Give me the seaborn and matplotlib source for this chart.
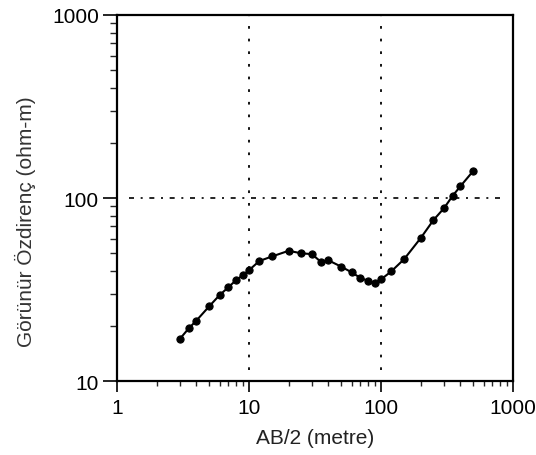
import matplotlib
matplotlib.use("Agg")
import matplotlib.pyplot as plt
import matplotlib.ticker as mticker
import seaborn as sns
import pandas as pd

# Data
ab2 = [3, 3.5, 4, 5, 6, 7, 8, 9, 10, 12, 15, 20, 25, 30, 35, 40, 50, 60, 70, 80,
       90, 100, 120, 150, 200, 250, 300, 350, 400, 500]
rho = [17.0, 19.4, 21.4, 25.6, 29.5, 32.6, 35.6, 37.9, 40.3, 45.3, 48.0, 51.5, 49.9,
       49.4, 44.9, 45.7, 42.2, 39.3, 36.6, 35.3, 34.3, 35.9, 39.8, 46.4, 60.4, 75.8,
       87.9, 103.0, 116.0, 140.5]
x_ticks = [1, 10, 100, 1000]
y_ticks = [10, 100, 1000]
x_label = "AB/2 (metre)"
y_label = "Görünür Özdirenç (ohm-m)"

sns.set_style("ticks")
plt.rcParams["font.family"] = ["Liberation Sans", "DejaVu Sans"]

df = pd.DataFrame({"ab2": ab2, "rho": rho})

fig = plt.figure(figsize=(5.36, 4.56), dpi=100)
ax = fig.add_axes([0.218, 0.162, 0.739, 0.803])

sns.lineplot(data=df, x="ab2", y="rho", ax=ax, color="black", lw=1.5,
             marker="o", markersize=5.2, markeredgecolor="black",
             markerfacecolor="black", sort=False)

ax.set_xscale("log")
ax.set_yscale("log")
ax.set_xlim(x_ticks[0], x_ticks[-1])
ax.set_ylim(y_ticks[0], y_ticks[-1])
ax.set_xticks(x_ticks)
ax.set_yticks(y_ticks)
fmt = mticker.FuncFormatter(lambda v, _: f"{v:g}")
ax.xaxis.set_major_formatter(fmt)
ax.yaxis.set_major_formatter(fmt)
ax.xaxis.set_minor_formatter(mticker.NullFormatter())
ax.yaxis.set_minor_formatter(mticker.NullFormatter())

# reference lines
for xv in x_ticks[1:-1]:
    ax.axvline(xv, ymin=0.03, ymax=1, color="black", lw=1.3,
               linestyle=(0, (1.5, 5.5)), zorder=1)
ax.axhline(y_ticks[1], xmin=0.03, xmax=0.97, color="black", lw=1.2,
           linestyle=(0, (3, 4, 1.2, 4)), zorder=1)

for s in ax.spines.values():
    s.set_visible(True)
    s.set_linewidth(1.6)
    s.set_color("black")

ax.tick_params(axis="x", which="major", length=8, width=1.2, labelsize=15,
               pad=4, colors="black")
ax.tick_params(axis="y", which="major", length=10, width=1.2, labelsize=15,
               pad=3, colors="black")
ax.tick_params(axis="x", which="minor", length=3.8, width=1.0)
ax.tick_params(axis="y", which="minor", length=5, width=1.0)
ax.tick_params(top=False, right=False, which="both")

ax.set_xlabel(x_label, fontsize=15, labelpad=8, color="#222222")
ax.set_ylabel(y_label, fontsize=15, color="#333333")
ax.yaxis.set_label_coords(-0.205, 0.437)
ax.set_facecolor("white")
fig.patch.set_facecolor("white")

fig.savefig("out.png", dpi=100)
